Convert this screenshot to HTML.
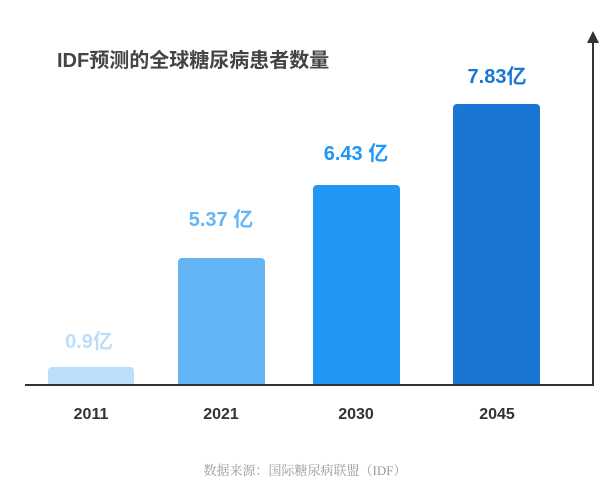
<!DOCTYPE html>
<html><head><meta charset="utf-8"><style>
body{margin:0;background:#fff;width:610px;height:487px;overflow:hidden;position:relative;font-family:"Liberation Sans","Noto Sans CJK SC",sans-serif}
.a{position:absolute}
.bar{position:absolute;border-radius:4px 4px 0 0}
.lbl{position:absolute;font-weight:bold;font-size:20px;text-align:center;width:140px;line-height:1}
.yr{position:absolute;top:406px;font-weight:bold;font-size:16px;color:#333;width:100px;text-align:center}
</style></head><body>
<div class="a" style="left:57px;top:44px;font-size:20px;font-weight:bold;color:#444">IDF预测的全球糖尿病患者数量</div>
<div class="a" style="left:25px;top:384px;width:569px;height:2px;background:#333"></div>
<div class="a" style="left:592px;top:40px;width:2px;height:346px;background:#333"></div>
<div class="a" style="left:587px;top:31px;width:0;height:0;border-left:6px solid transparent;border-right:6px solid transparent;border-bottom:12px solid #333"></div>
<div class="bar" style="left:48px;top:367px;width:86px;height:17px;background:#bbdefb"></div>
<div class="bar" style="left:178px;top:258px;width:87px;height:126px;background:#64b5f6"></div>
<div class="bar" style="left:313px;top:185px;width:87px;height:199px;background:#2196f3"></div>
<div class="bar" style="left:453px;top:104px;width:87px;height:280px;background:#1976d2"></div>
<div class="lbl" style="left:19px;top:332px;color:#bbdefb">0.9亿</div>
<div class="lbl" style="left:151px;top:210px;color:#64b5f6">5.37 亿</div>
<div class="lbl" style="left:286px;top:144px;color:#2196f3">6.43 亿</div>
<div class="lbl" style="left:427px;top:67px;color:#1976d2">7.83亿</div>
<div class="yr" style="left:41px">2011</div>
<div class="yr" style="left:171px">2021</div>
<div class="yr" style="left:306px">2030</div>
<div class="yr" style="left:447px">2045</div>
<div class="a" style="left:0;width:610px;top:460px;text-align:center;font-size:13px;color:#999;font-family:'Liberation Serif','Noto Serif CJK SC',serif">数据来源：国际糖尿病联盟（IDF）</div>
</body></html>
